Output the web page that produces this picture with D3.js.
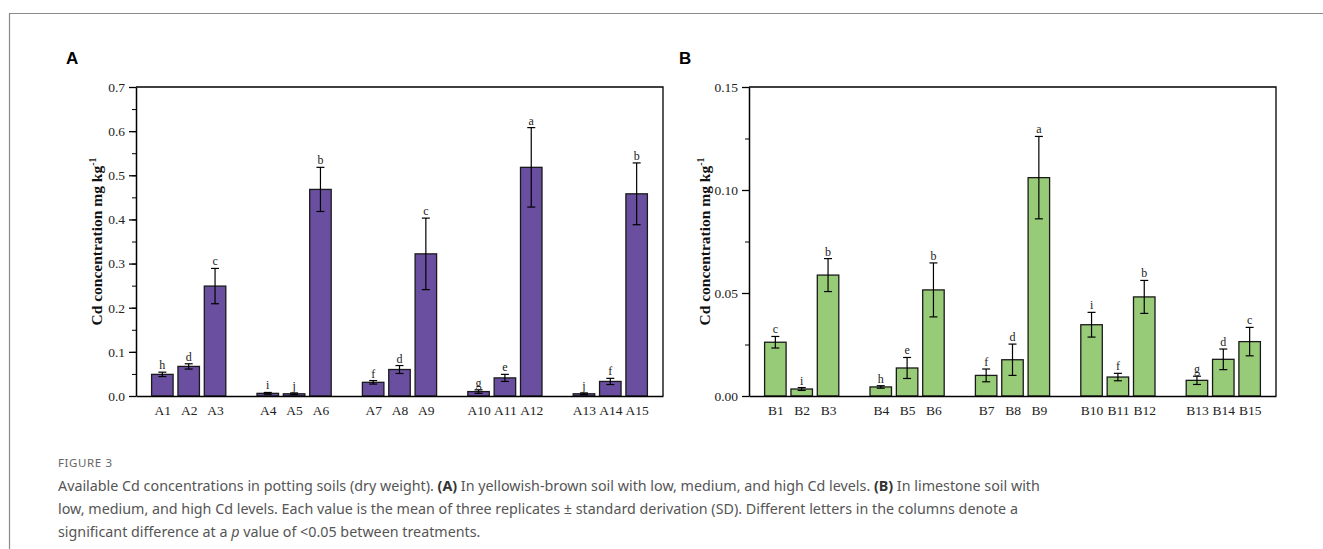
<!DOCTYPE html>
<html>
<head>
<meta charset="utf-8">
<script src="https://cdn.jsdelivr.net/npm/d3@7"></script>
<style>
  body { margin: 0; background: #fff; }
  svg { display: block; }
</style>
</head>
<body>
<svg id="fig" width="1323" height="549"></svg>
<script>
// data
var labelsA = ['A1','A2','A3','A4','A5','A6','A7','A8','A9','A10','A11','A12','A13','A14','A15'];
var meansA  = [0.049, 0.067, 0.249, 0.006, 0.005, 0.468, 0.031, 0.060, 0.322, 0.010, 0.041, 0.518, 0.005, 0.033, 0.458];
var sdA     = [0.005, 0.006, 0.040, 0.002, 0.002, 0.050, 0.004, 0.009, 0.081, 0.004, 0.008, 0.090, 0.002, 0.007, 0.070];
var lettersA = ['h','d','c','i','j','b','f','d','c','g','e','a','j','f','b'];

var labelsB = ['B1','B2','B3','B4','B5','B6','B7','B8','B9','B10','B11','B12','B13','B14','B15'];
var meansB  = [0.0261, 0.0034, 0.0587, 0.0044, 0.0136, 0.0515, 0.0100, 0.0176, 0.1060, 0.0346, 0.0092, 0.0481, 0.0076, 0.0178, 0.0264];
var sdB     = [0.0028, 0.0007, 0.0080, 0.0006, 0.0051, 0.0131, 0.0031, 0.0076, 0.0200, 0.0060, 0.0018, 0.0080, 0.0020, 0.0050, 0.0069];
var lettersB = ['c','i','b','h','e','b','f','d','a','i','f','b','g','d','c'];

var ticksA = [0, 0.1, 0.2, 0.3, 0.4, 0.5, 0.6, 0.7];
var ticksB = [0, 0.05, 0.10, 0.15];

var svg = d3.select('#fig');

// outer figure frame (top and left only)
svg.append('path')
    .attr('d', 'M9.5,549 L9.5,13.5 L1323,13.5')
    .attr('fill', 'none')
    .attr('stroke', '#8a8a8a')
    .attr('stroke-width', 1.2);

function panel(opt) {
    var top = 87, bottom = 396,
        left = opt.left, right = opt.left + 527;

    // slot index: 3 bars per group, one empty slot between groups
    var x = d3.scaleLinear().domain([-1, 19]).range([left, right]);
    var y = d3.scaleLinear().domain([0, opt.max]).range([bottom, top]);
    var slot = function(i) { return Math.floor(i / 3) * 4 + i % 3; };
    var bw = 21.5;

    var g = svg.append('g');

    // panel letter
    g.append('text')
        .attr('x', opt.left - 70)
        .attr('y', 64)
        .attr('font-family', 'Liberation Sans, Arial, sans-serif')
        .attr('font-weight', 'bold')
        .attr('font-size', 17)
        .text(opt.tag);

    // bars
    g.selectAll('rect.bar')
        .data(opt.means)
        .enter()
        .append('rect')
        .attr('class', 'bar')
        .attr('x', function(d, i) { return x(slot(i)) - bw / 2; })
        .attr('y', function(d) { return y(d); })
        .attr('width', bw)
        .attr('height', function(d) { return bottom - y(d); })
        .attr('fill', opt.color)
        .attr('stroke', '#1a1a1a')
        .attr('stroke-width', 1.3);

    // error bars
    var eb = g.selectAll('g.err')
        .data(opt.means)
        .enter()
        .append('g')
        .attr('class', 'err')
        .attr('stroke', '#000')
        .attr('stroke-width', 1.2);
    eb.append('line')
        .attr('x1', function(d, i) { return x(slot(i)); })
        .attr('x2', function(d, i) { return x(slot(i)); })
        .attr('y1', function(d, i) { return y(d + opt.sd[i]); })
        .attr('y2', function(d, i) { return y(Math.max(0, d - opt.sd[i])); });
    [1, -1].forEach(function(s) {
        eb.append('line')
            .attr('x1', function(d, i) { return x(slot(i)) - 4; })
            .attr('x2', function(d, i) { return x(slot(i)) + 4; })
            .attr('y1', function(d, i) { return y(Math.max(0, d + s * opt.sd[i])); })
            .attr('y2', function(d, i) { return y(Math.max(0, d + s * opt.sd[i])); });
    });

    // significance letters
    g.selectAll('text.sig')
        .data(opt.letters)
        .enter()
        .append('text')
        .attr('class', 'sig')
        .attr('x', function(d, i) { return x(slot(i)); })
        .attr('y', function(d, i) { return y(opt.means[i] + opt.sd[i]) - 3; })
        .attr('text-anchor', 'middle')
        .attr('font-family', 'Liberation Serif, Times New Roman, serif')
        .attr('font-size', 12)
        .attr('fill', '#222')
        .text(function(d) { return d; });

    // frame (top and right)
    g.append('path')
        .attr('d', 'M' + left + ',' + top + 'H' + right + 'V' + bottom)
        .attr('fill', 'none')
        .attr('stroke', '#000')
        .attr('stroke-width', 1.3);

    // y axis with minor ticks
    var minor = d3.range(0, opt.max + 1e-9, opt.minorStep);
    g.append('g')
        .attr('transform', 'translate(' + left + ',0)')
        .call(d3.axisLeft(y).tickValues(minor).tickSize(4).tickFormat(''))
        .call(function(a) { a.select('.domain').remove(); });
    var ay = g.append('g')
        .attr('transform', 'translate(' + left + ',0)')
        .call(d3.axisLeft(y).tickValues(opt.ticks).tickSize(7).tickSizeOuter(0)
            .tickFormat(d3.format(opt.fmt)));
    ay.select('.domain').attr('stroke-width', 1.5);
    ay.selectAll('.tick line').attr('stroke-width', 1.3);
    ay.selectAll('text')
        .attr('font-family', 'Liberation Serif, Times New Roman, serif')
        .attr('font-size', 13.5)
        .attr('fill', '#222')
        .attr('dx', -1);

    // x axis
    var ax = g.append('g')
        .attr('transform', 'translate(0,' + bottom + ')')
        .call(d3.axisBottom(x).tickValues(opt.labels.map(function(d, i) { return slot(i); }))
            .tickSize(0).tickSizeOuter(0)
            .tickFormat(function(d, i) { return opt.labels[i]; }));
    ax.select('.domain').attr('stroke-width', 1.6);
    ax.selectAll('text')
        .attr('font-family', 'Liberation Serif, Times New Roman, serif')
        .attr('font-size', 13.5)
        .attr('fill', '#222')
        .attr('dy', '1.2em');

    // y axis title
    var yt = g.append('text')
        .attr('transform', 'translate(' + (left - opt.titleOff) + ',' + ((top + bottom) / 2) + ') rotate(-90)')
        .attr('text-anchor', 'middle')
        .attr('font-family', 'Liberation Serif, Times New Roman, serif')
        .attr('font-weight', 'bold')
        .attr('font-size', 15.5)
        .attr('fill', '#111');
    yt.append('tspan').text('Cd concentration mg kg');
    yt.append('tspan').attr('dy', -6).attr('font-size', 10).text('-1');
}

panel({
    tag: 'A', left: 136, max: 0.7, minorStep: 0.05, ticks: ticksA, fmt: '.1f',
    labels: labelsA, means: meansA, sd: sdA, letters: lettersA,
    color: '#6a4fa0', titleOff: 34
});
panel({
    tag: 'B', left: 749, max: 0.15, minorStep: 0.025, ticks: ticksB, fmt: '.2f',
    labels: labelsB, means: meansB, sd: sdB, letters: lettersB,
    color: '#98cb78', titleOff: 39
});

// caption
var cap = svg.append('g')
    .attr('font-family', 'Noto Sans, Open Sans, sans-serif')
    .attr('fill', '#555');
cap.append('text')
    .attr('x', 58).attr('y', 467)
    .attr('font-size', 11.5)
    .attr('letter-spacing', 0.6)
    .attr('fill', '#666')
    .text('FIGURE 3');

var capLines = [
    [['Available Cd concentrations in potting soils (dry weight). ', 0], ['(A)', 1],
     [' In yellowish-brown soil with low, medium, and high Cd levels. ', 0], ['(B)', 1],
     [' In limestone soil with', 0]],
    [['low, medium, and high Cd levels. Each value is the mean of three replicates \u00b1 standard derivation (SD). Different letters in the columns denote a', 0]],
    [['significant difference at a ', 0], ['p', 2], [' value of <0.05 between treatments.', 0]]
];
capLines.forEach(function(line, k) {
    var t = cap.append('text')
        .attr('x', 58)
        .attr('y', 491 + k * 23)
        .attr('font-size', 14.3);
    line.forEach(function(p) {
        var s = t.append('tspan').text(p[0]);
        if (p[1] === 1) s.attr('font-weight', 'bold').attr('fill', '#333');
        if (p[1] === 2) s.attr('font-style', 'italic');
    });
});
</script>
</body>
</html>
